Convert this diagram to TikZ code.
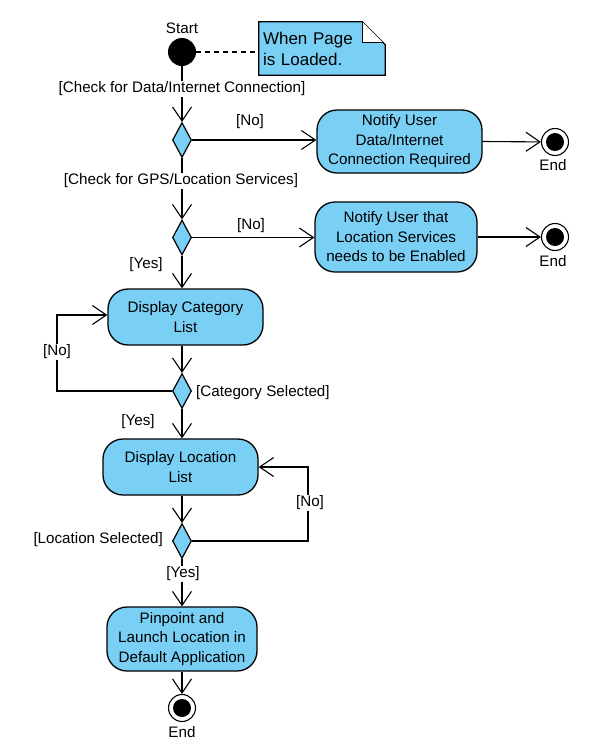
\documentclass[tikz,border=0pt]{standalone}
\usepackage{fontspec}
\setmainfont{Liberation Sans}
\usetikzlibrary{arrows.meta,shapes.geometric,calc}
\definecolor{actfill}{RGB}{122,207,245}
\tikzset{
  txt/.style={font=\fontsize{15.2}{19.5}\selectfont, inner sep=1pt},
  action/.style={txt, draw, line width=1.3pt, fill=actfill, rounded corners=20pt,
    align=center, inner sep=0pt},
  decision/.style={draw, line width=1.2pt, fill=actfill, diamond, inner sep=0pt,
    minimum width=19pt, minimum height=35pt},
  initial/.style={circle, fill=black, minimum size=28pt, inner sep=0pt},
  final/.style={circle, draw, line width=1.1pt, fill=white, minimum size=27pt, inner sep=0pt,
    path picture={\fill[black] (path picture bounding box.center) circle (9pt);}},
  flow/.style={line width=1.1pt, -{Straight Barb[length=14pt,width=19pt,line width=1.1pt]}},
  plain/.style={line width=1.1pt},
  guard/.style={txt},
  guardbg/.style={txt, fill=white},
  notetxt/.style={font=\fontsize{17}{21}\selectfont, text width=118pt, align=left,
    inner sep=4pt, minimum height=53pt},
}
\begin{document}
\begin{tikzpicture}[x=1pt,y=-1pt]
\useasboundingbox[fill=white] (0,0) rectangle (599,750);

% initial state and its note
\node[initial] (start) at (182,52) {};
\node[txt, above] (startlbl) at (182,35) {Start};
\node[notetxt] (note) at (322,48.5) {\phantom{When Page}};
\fill[actfill] (note.north west) -- ($(note.north east)+(-23,0)$) -- ($(note.north east)+(0,23)$)
  -- (note.south east) -- (note.south west) -- cycle;
\draw[line width=1.2pt] (note.north west) -- ($(note.north east)+(-23,0)$) -- ($(note.north east)+(0,23)$)
  -- (note.south east) -- (note.south west) -- cycle;
\draw[line width=1.1pt, fill=white] ($(note.north east)+(-23,0)$) -- ($(note.north east)+(-23,21)$)
  -- ($(note.north east)+(-2,21)$);
\node[notetxt] (notetext) at (note.center) {When Page\\is Loaded.};
\draw[plain, dashed, dash pattern=on 5pt off 4pt] (start.east) -- (start.east -| note.west);

% decisions and actions
\node[decision] (d1) at (182,140) {};
\node[action, minimum width=165pt, minimum height=63pt] (n1) at (399.5,141.5)
  {Notify User\\Data/Internet\\Connection Required};
\node[final] (e1) at (555,142) {};

\node[decision] (d2) at (182,237.5) {};
\node[action, minimum width=162pt, minimum height=70pt] (n2) at (396,237)
  {Notify User that\\Location Services\\needs to be Enabled};
\node[final] (e2) at (555,237) {};

\node[action, minimum width=155pt, minimum height=56pt] (cat) at (185.5,317)
  {Display Category\\List};
\node[decision] (d3) at (182,391) {};

\node[action, minimum width=155pt, minimum height=56pt] (loc) at (180.5,467)
  {Display Location\\List};
\node[decision] (d4) at (182,541) {};

\node[action, minimum width=150pt, minimum height=64pt] (pin) at (182,639)
  {Pinpoint and\\Launch Location in\\Default Application};
\node[final] (e3) at (182,708) {};

\coordinate (loopL) at (57,0);
\coordinate (loopR) at (308,0);

% control flows
\draw[flow] (start) -- (d1);
\draw[flow] (d1.east) -- (d1.east -| n1.west);
\draw[flow] (n1.east) -- (e1);
\draw[flow] (d1) -- (d2);
\draw[flow] (d2.east) -- (d2.east -| n2.west);
\draw[flow] (n2.east) -- (e2);
\draw[flow] (d2.south) -- (d2.south |- cat.north);
\draw[flow] (cat.south -| d3) -- (d3.north);
\draw[flow] (d3.west) -- (d3.west -| loopL) |- ([yshift=2pt]cat.west);
\draw[flow] (d3.south) -- (d3.south |- loc.north);
\draw[flow] (loc.south -| d4) -- (d4.north);
\draw[flow] (d4.east) -- (d4.east -| loopR) |- (loc.east);
\draw[flow] (d4.south) -- (d4.south |- pin.north);
\draw[flow] (pin.south -| e3) -- (e3);

% guards and labels
\node[guardbg] (g1) at (182,89) {[Check for Data/Internet Connection]};
\node[guard] (g1no) at (250,122) {[No]};
\node[guard] (end1) at (553,165) {End};
\node[guardbg] (g2) at (181,181) {[Check for GPS/Location Services]};
\node[guard] (g2no) at (251,226) {[No]};
\node[guard] (end2) at (553,261) {End};
\node[guard] (g2yes) at (146,265) {[Yes]};
\node[guardbg] (g3no) at (57,352) {[No]};
\node[guard, anchor=west] (g3) at (195,393) {[Category Selected]};
\node[guard] (g3yes) at (138,422) {[Yes]};
\node[guardbg] (g4no) at (310,503) {[No]};
\node[guard, anchor=east] (g4) at (164,540) {[Location Selected]};
\node[guardbg] (g4yes) at (183,574) {[Yes]};
\node[guard] (end3) at (182,732) {End};
\end{tikzpicture}
\end{document}
